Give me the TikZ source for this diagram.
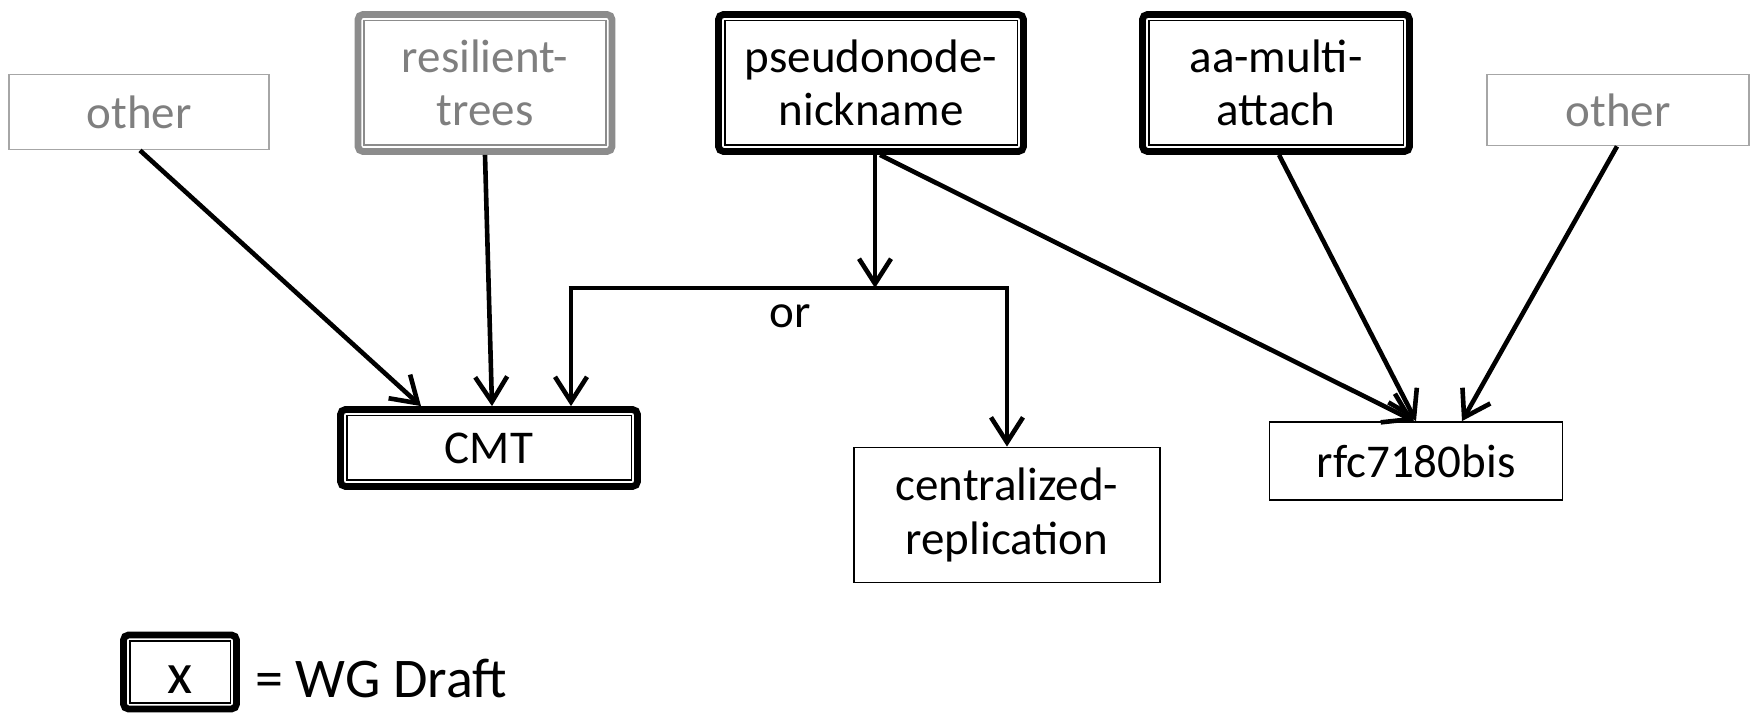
\documentclass[tikz,border=0pt]{standalone}
\usepackage{fontspec}
\setmainfont{Carlito}
\usetikzlibrary{arrows.meta}
\definecolor{gtext}{HTML}{7F7F7F}
\definecolor{gborder}{HTML}{8C8C8C}
\definecolor{lborder}{HTML}{A6A6A6}
\tikzset{
  base/.style={align=center,inner sep=0pt,font=\fontsize{23.5pt}{26.8pt}\selectfont},
  thinbox/.style={base,draw=black,line width=0.9pt},
  greybox/.style={base,draw=lborder,line width=0.9pt,text=gtext},
  wgbox/.style={base,draw=#1,line width=3.4pt,rounded corners=2.5pt,
    path picture={
      \draw[#1,line width=0.8pt,sharp corners]
        ([shift={(3.1pt,-3.1pt)}]path picture bounding box.north west) rectangle
        ([shift={(-3.1pt,3.1pt)}]path picture bounding box.south east);}},
  wgbox/.default=black,
  conn/.style={line width=2.3pt},
  arr/.style={conn,-{Straight Barb[length=12.5pt,width=16pt]}},
}
\begin{document}
\begin{tikzpicture}[x=0.5pt,y=-0.5pt]
\useasboundingbox (0,0) rectangle (1752,715);
% top row
\node[greybox,minimum width=130pt,minimum height=37.5pt] (otherL) at (139,112) {other};
\node[wgbox=gborder,text=gtext,minimum width=127pt,minimum height=68.5pt] (resil) at (485,83) {resilient-\\trees};
\node[wgbox,minimum width=152.5pt,minimum height=68.5pt] (pseudo) at (871,83) {pseudonode-\\nickname};
\node[wgbox,minimum width=133.5pt,minimum height=68.5pt] (aa) at (1276,83) {aa-multi-\\attach};
\node[greybox,minimum width=131pt,minimum height=35.5pt] (otherR) at (1618,110) {other};
% lower row
\node[wgbox,minimum width=148.5pt,minimum height=38.5pt] (cmt) at (489,448) {CMT};
\node[thinbox,minimum width=153pt,minimum height=67.5pt] (centr) at (1007,515) {centralized-\\replication};
\node[thinbox,minimum width=146.5pt,minimum height=39pt] (rfc) at (1416,461) {rfc7180bis};
% legend
\node[wgbox,minimum width=56.5pt,minimum height=37pt] (leg) at (180,672) {};
\node[base,font=\fontsize{29pt}{32pt}\selectfont] (legx) at (180,680) {x};
\node[base,anchor=west,font=\fontsize{28pt}{32pt}\selectfont] (legtxt) at (255,679) {= WG Draft};
% junction
\coordinate (j) at (875,288);
\coordinate (jl) at (571,288);
\coordinate (jr) at (1007,288);
\node[base] (or) at (790,316) {or};
% connectors
\draw[arr] ([xshift=0.5pt]otherL.south) -- ([xshift=-34pt]cmt.north);
\draw[arr] (resil.south) -- ([xshift=1.5pt]cmt.north);
\draw[arr] ([xshift=2pt]pseudo.south) -- (j);
\draw[conn] ([xshift=-1.15pt]jl) -- ([xshift=1.15pt]jr);
\draw[arr] (jl) -- ([xshift=41pt]cmt.north);
\draw[arr] (jr) -- (centr.north);
\draw[arr] ([xshift=4.5pt]pseudo.south) -- ([xshift=-1pt]rfc.north);
\draw[arr] ([xshift=1.5pt]aa.south) -- (rfc.north);
\draw[arr] ([xshift=-0.5pt]otherR.south) -- ([xshift=23pt]rfc.north);
\end{tikzpicture}
\end{document}
